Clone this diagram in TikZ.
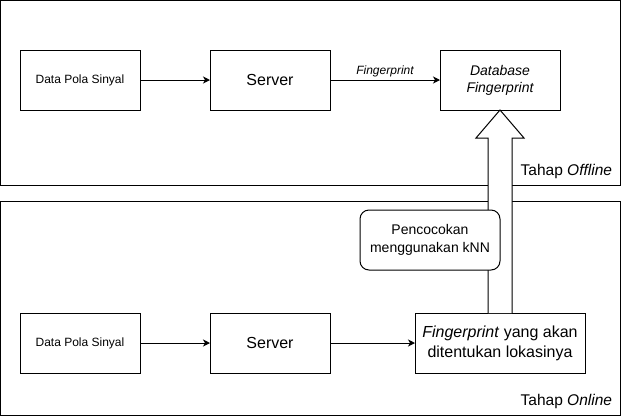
\documentclass[tikz,border=0pt]{standalone}
\usepackage{fontspec}
\setmainfont{Liberation Sans}
\usetikzlibrary{arrows.meta,positioning}
\begin{document}
\begin{tikzpicture}[x=1pt,y=-1pt,
  every node/.style={inner sep=0pt,outer sep=0pt},
  frame/.style={draw,line width=1pt},
  box/.style={draw,line width=1pt,fill=white,minimum height=60pt,align=center},
  rbox/.style={draw,line width=1pt,fill=white,rounded corners=9pt,minimum height=60pt,minimum width=140pt,align=center},
  conn/.style={line width=1pt,-{Stealth[length=7pt,width=7pt,inset=2pt]}},
  blockarrow/.style={draw,line width=1pt,fill=white,line join=miter}
]
\useasboundingbox (0,0) rectangle (621,416);
% frames
\draw[frame] (0.5,0.5) rectangle (620.5,185.5);
\draw[frame] (0.5,201) rectangle (620.5,415.5);
\node[anchor=east,font=\fontsize{15.5}{18}\selectfont] (toff) at (612,171) {Tahap \textit{Offline}};
\node[anchor=east,font=\fontsize{15.5}{18}\selectfont] (ton) at (612,401) {Tahap \textit{Online}};
% top row
\node[box,minimum width=120pt,font=\fontsize{12}{14}\selectfont] (d1) at (80,80) {Data Pola Sinyal};
\node[box,minimum width=120pt,font=\fontsize{16}{19}\selectfont] (s1) at (270,80) {Server};
\node[box,minimum width=120pt,font=\fontsize{14}{16.8}\selectfont\itshape] (db) at (500,80) {Database\\Fingerprint};
% bottom row
\node[box,minimum width=120pt,font=\fontsize{12}{14}\selectfont] (d2) at (80,343) {Data Pola Sinyal};
\node[box,minimum width=120pt,font=\fontsize{16}{19}\selectfont] (s2) at (270,343) {Server};
\node[box,minimum width=170pt,font=\fontsize{16}{20}\selectfont] (fp) at (500,343) {\textit{Fingerprint} yang akan\\ditentukan lokasinya};
% connectors
\draw[conn] (d1) -- (s1);
\draw[conn] (s1) -- node[above=3pt,font=\fontsize{12}{14}\selectfont\itshape] (fl) {Fingerprint} (db);
\draw[conn] (d2) -- (s2);
\draw[conn] (s2) -- (fp);
% block arrow
\draw[blockarrow] ([xshift=-12pt]fp.north) -- ([xshift=-12pt,yshift=-28pt]db.south)
  -- ([xshift=-24pt,yshift=-28pt]db.south) -- (db.south)
  -- ([xshift=24pt,yshift=-28pt]db.south) -- ([xshift=12pt,yshift=-28pt]db.south)
  -- ([xshift=12pt]fp.north);
% matching box
\node[rbox,font=\fontsize{14}{17.3}\selectfont] (knn) at (430,240) {Pencocokan\\menggunakan kNN};
\end{tikzpicture}
\end{document}
